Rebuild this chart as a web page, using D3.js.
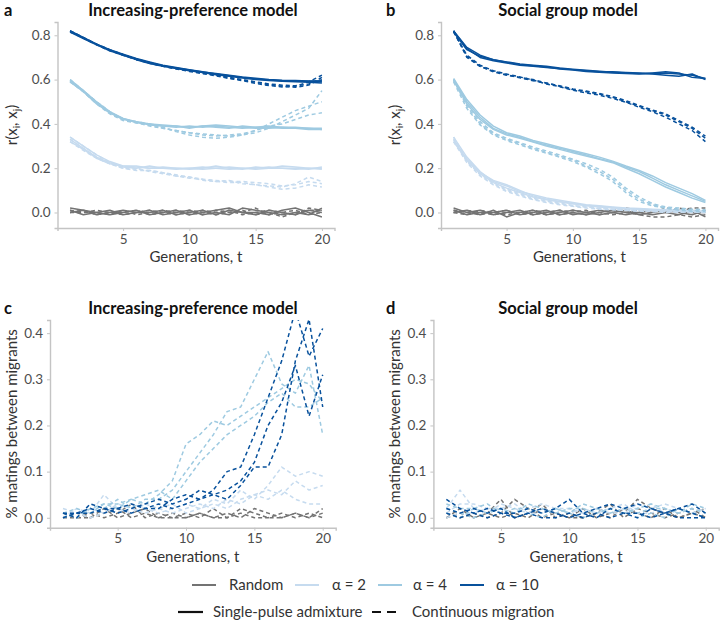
<!DOCTYPE html>
<html><head><meta charset="utf-8">
<script src="https://cdn.jsdelivr.net/npm/d3@7"></script>
<style>
html,body{margin:0;padding:0;background:#fff;}
svg{display:block;font-family:Lato,"Open Sans",sans-serif;}
</style></head>
<body><svg id="chart" width="720" height="622"></svg>
<script>
// ---------------- DATA ----------------
const generations = [1,2,3,4,5,6,7,8,9,10,11,12,13,14,15,16,17,18,19,20];
const groupNames = ["Random","α = 2","α = 4","α = 10"];
const migrationTypes = ["Single-pulse admixture","Continuous migration"];
const panelTitles = ["Increasing-preference model","Social group model","Increasing-preference model","Social group model"];
const panelLetters = ["a","b","c","d"];
const xTicks = [5,10,15,20];
const rTicks = [0.0,0.2,0.4,0.6,0.8];
const matingTicks = [0.0,0.1,0.2,0.3,0.4];

// Panel a: increasing-preference model, r(x_i, x_j)
const aRandomSolid = [
 [0.02,0.01,0.00,-0.01,0.00,0.01,-0.01,0.00,0.01,-0.01,0.00,0.01,0.02,0.00,-0.01,0.01,0.00,-0.01,0.01,0.00],
 [0.00,0.01,-0.01,0.00,0.01,0.00,0.01,-0.01,0.00,0.01,-0.01,0.00,-0.01,0.02,0.01,0.00,-0.01,0.00,-0.01,0.02],
 [0.01,-0.01,0.00,0.01,-0.01,0.00,0.00,0.01,-0.01,0.00,0.01,-0.01,0.01,0.00,0.00,-0.01,0.01,0.02,0.00,-0.02]];
const aRandomDashed = [
 [0.00,0.00,0.01,0.00,-0.01,0.00,0.01,0.00,-0.01,0.01,0.00,-0.01,0.00,0.01,-0.01,0.00,-0.02,0.00,0.01,0.01],
 [0.01,0.00,0.00,-0.01,0.01,-0.01,0.00,0.01,0.00,-0.01,0.01,0.00,0.01,-0.01,0.00,0.01,0.00,0.01,-0.01,0.00],
 [0.00,0.01,-0.01,0.00,0.00,0.01,-0.01,0.00,0.01,0.00,-0.01,0.01,0.00,0.00,0.02,-0.01,0.00,-0.01,0.02,0.01]];
const aA2Solid = [
 [0.34,0.30,0.26,0.23,0.21,0.205,0.20,0.20,0.195,0.20,0.205,0.20,0.195,0.20,0.20,0.205,0.20,0.195,0.20,0.20],
 [0.33,0.29,0.25,0.225,0.205,0.20,0.21,0.20,0.20,0.195,0.20,0.21,0.20,0.195,0.205,0.20,0.20,0.20,0.195,0.205],
 [0.32,0.285,0.245,0.22,0.21,0.21,0.20,0.205,0.20,0.20,0.195,0.20,0.205,0.20,0.195,0.20,0.21,0.205,0.20,0.195]];
const aA2Dashed = [
 [0.33,0.29,0.25,0.22,0.20,0.195,0.19,0.18,0.17,0.16,0.15,0.145,0.14,0.14,0.135,0.13,0.12,0.125,0.14,0.13],
 [0.34,0.30,0.26,0.225,0.205,0.20,0.185,0.175,0.165,0.155,0.15,0.14,0.145,0.13,0.125,0.12,0.115,0.13,0.16,0.14],
 [0.32,0.28,0.245,0.22,0.20,0.19,0.19,0.18,0.165,0.16,0.145,0.14,0.135,0.135,0.125,0.115,0.105,0.11,0.125,0.115]];
const aA4Solid = [
 [0.60,0.55,0.50,0.455,0.425,0.41,0.40,0.39,0.385,0.39,0.385,0.39,0.385,0.38,0.385,0.385,0.38,0.38,0.38,0.375],
 [0.59,0.545,0.49,0.45,0.42,0.41,0.395,0.39,0.39,0.385,0.39,0.395,0.39,0.385,0.38,0.38,0.385,0.385,0.38,0.38],
 [0.595,0.55,0.495,0.45,0.425,0.405,0.40,0.395,0.39,0.38,0.39,0.385,0.38,0.39,0.385,0.39,0.385,0.38,0.375,0.375]];
const aA4Dashed = [
 [0.60,0.55,0.50,0.455,0.42,0.41,0.40,0.38,0.37,0.36,0.35,0.345,0.35,0.355,0.37,0.40,0.43,0.46,0.48,0.50],
 [0.595,0.545,0.495,0.45,0.42,0.405,0.395,0.385,0.365,0.35,0.34,0.335,0.34,0.35,0.36,0.38,0.41,0.44,0.47,0.55],
 [0.59,0.545,0.49,0.445,0.415,0.405,0.39,0.38,0.37,0.36,0.355,0.35,0.345,0.35,0.37,0.39,0.40,0.42,0.44,0.45]];
const aA10Solid = [
 [0.82,0.79,0.76,0.735,0.715,0.695,0.68,0.665,0.655,0.645,0.635,0.625,0.617,0.61,0.603,0.598,0.595,0.593,0.592,0.59],
 [0.815,0.785,0.757,0.73,0.71,0.69,0.673,0.66,0.65,0.64,0.632,0.622,0.615,0.607,0.60,0.596,0.592,0.59,0.588,0.585],
 [0.82,0.788,0.76,0.733,0.712,0.692,0.676,0.662,0.652,0.643,0.634,0.627,0.62,0.612,0.606,0.60,0.597,0.596,0.594,0.595]];
const aA10Dashed = [
 [0.82,0.79,0.76,0.735,0.713,0.693,0.677,0.663,0.652,0.641,0.63,0.62,0.61,0.60,0.59,0.58,0.575,0.572,0.58,0.60],
 [0.815,0.787,0.757,0.73,0.71,0.69,0.674,0.66,0.648,0.637,0.627,0.617,0.605,0.595,0.583,0.573,0.567,0.57,0.59,0.62],
 [0.82,0.788,0.758,0.733,0.711,0.692,0.675,0.661,0.65,0.64,0.63,0.62,0.608,0.598,0.588,0.577,0.57,0.565,0.575,0.61]];

// Panel b: social group model, r(x_i, x_j)
const bRandomSolid = [
 [0.02,0.00,0.01,-0.01,0.00,0.01,-0.01,0.00,0.01,-0.01,0.00,0.01,0.00,-0.01,0.00,0.01,0.00,-0.01,0.01,-0.02],
 [0.00,0.01,-0.01,0.01,-0.02,0.00,0.01,-0.01,0.00,0.01,0.00,-0.01,0.00,0.01,-0.01,0.00,0.01,0.00,-0.01,0.01],
 [0.01,-0.01,0.00,0.00,0.01,-0.01,0.00,0.01,-0.01,0.00,-0.01,0.00,0.01,0.00,0.00,-0.01,0.00,0.01,0.00,0.00]];
const bRandomDashed = [
 [0.00,0.01,0.00,-0.01,0.00,0.00,-0.01,0.00,0.01,0.00,-0.01,0.01,0.01,0.02,0.01,0.00,0.02,0.01,0.02,0.02],
 [0.01,0.00,-0.01,0.00,0.01,-0.01,0.00,-0.01,0.00,0.01,0.00,0.00,-0.01,0.00,-0.01,-0.02,-0.02,-0.01,-0.02,-0.01],
 [0.00,-0.01,0.01,0.00,-0.01,0.00,0.01,0.00,-0.01,0.00,0.01,-0.01,0.00,0.01,0.00,0.01,0.00,0.02,0.01,0.00]];
const bA2Solid = [
 [0.34,0.25,0.185,0.14,0.12,0.095,0.08,0.065,0.055,0.045,0.035,0.03,0.025,0.02,0.018,0.015,0.012,0.01,0.008,0.005],
 [0.33,0.24,0.18,0.145,0.125,0.10,0.075,0.06,0.05,0.04,0.033,0.028,0.022,0.018,0.015,0.012,0.01,0.008,0.006,0.004],
 [0.32,0.235,0.175,0.135,0.11,0.09,0.07,0.058,0.048,0.04,0.03,0.025,0.02,0.017,0.013,0.01,0.008,0.006,0.005,0.003]];
const bA2Dashed = [
 [0.33,0.23,0.17,0.13,0.10,0.08,0.06,0.05,0.04,0.03,0.025,0.02,0.015,0.01,0.01,0.005,0.005,0.0,0.005,0.0],
 [0.32,0.225,0.165,0.125,0.095,0.075,0.058,0.045,0.035,0.028,0.02,0.015,0.012,0.01,0.005,0.008,0.003,0.005,0.0,0.005],
 [0.34,0.24,0.175,0.135,0.105,0.085,0.065,0.052,0.042,0.032,0.025,0.018,0.014,0.01,0.008,0.005,0.0,0.003,0.002,0.0]];
const bA4Solid = [
 [0.60,0.50,0.43,0.38,0.355,0.34,0.32,0.305,0.29,0.275,0.26,0.243,0.228,0.205,0.185,0.155,0.125,0.10,0.075,0.05],
 [0.595,0.49,0.42,0.375,0.35,0.335,0.318,0.30,0.285,0.27,0.255,0.24,0.225,0.20,0.175,0.145,0.115,0.09,0.065,0.045],
 [0.605,0.51,0.44,0.39,0.36,0.345,0.325,0.31,0.295,0.28,0.265,0.25,0.232,0.21,0.19,0.165,0.135,0.11,0.085,0.055]];
const bA4Dashed = [
 [0.60,0.48,0.40,0.355,0.33,0.31,0.29,0.272,0.255,0.237,0.21,0.185,0.15,0.10,0.06,0.035,0.02,0.015,0.01,0.01],
 [0.59,0.47,0.395,0.35,0.325,0.305,0.285,0.268,0.25,0.23,0.205,0.175,0.14,0.09,0.05,0.03,0.02,0.01,0.005,0.005],
 [0.60,0.49,0.41,0.36,0.335,0.315,0.295,0.278,0.26,0.24,0.22,0.195,0.16,0.11,0.07,0.04,0.025,0.02,0.015,0.012]];
const bA10Solid = [
 [0.82,0.74,0.70,0.685,0.675,0.665,0.66,0.655,0.65,0.645,0.64,0.635,0.635,0.632,0.63,0.628,0.63,0.625,0.62,0.605],
 [0.815,0.735,0.705,0.69,0.68,0.67,0.665,0.66,0.652,0.647,0.642,0.638,0.633,0.63,0.627,0.625,0.62,0.615,0.625,0.60],
 [0.82,0.745,0.71,0.69,0.678,0.668,0.662,0.657,0.648,0.643,0.637,0.633,0.63,0.628,0.625,0.63,0.635,0.63,0.61,0.605]];
const bA10Dashed = [
 [0.82,0.70,0.66,0.635,0.62,0.61,0.60,0.585,0.57,0.555,0.545,0.535,0.52,0.50,0.48,0.46,0.44,0.41,0.38,0.335],
 [0.815,0.71,0.665,0.64,0.625,0.612,0.598,0.58,0.568,0.552,0.54,0.53,0.515,0.498,0.475,0.455,0.43,0.40,0.37,0.32],
 [0.82,0.705,0.66,0.638,0.622,0.608,0.595,0.583,0.572,0.558,0.548,0.537,0.523,0.505,0.483,0.463,0.445,0.415,0.385,0.345]];

// Panel c: increasing-preference model, % matings between migrants (continuous migration)
const cRandom = [
 [0.00,0.01,0.00,0.01,0.02,0.00,0.01,0.00,0.00,0.00,0.01,0.00,0.01,0.00,0.02,0.01,0.00,0.01,0.00,0.01],
 [0.01,0.00,0.01,0.00,0.01,0.03,0.00,0.01,0.00,0.01,0.00,0.02,0.00,0.01,0.00,0.00,0.01,0.00,0.01,0.00],
 [0.00,0.00,0.00,0.02,0.00,0.01,0.02,0.00,0.01,0.00,0.01,0.00,0.00,0.02,0.01,0.00,0.00,0.01,0.00,0.02]];
const cA2 = [
 [0.01,0.00,0.02,0.01,0.03,0.02,0.01,0.02,0.01,0.02,0.03,0.02,0.04,0.03,0.05,0.06,0.05,0.08,0.06,0.07],
 [0.00,0.02,0.01,0.05,0.02,0.01,0.03,0.02,0.03,0.01,0.02,0.04,0.03,0.06,0.04,0.07,0.11,0.09,0.10,0.09],
 [0.02,0.01,0.00,0.01,0.02,0.03,0.02,0.01,0.02,0.03,0.02,0.03,0.02,0.04,0.05,0.04,0.06,0.04,0.03,0.03]];
const cA4 = [
 [0.01,0.00,0.02,0.03,0.02,0.04,0.03,0.05,0.08,0.16,0.18,0.21,0.20,0.22,0.24,0.26,0.28,0.30,0.29,0.25],
 [0.00,0.01,0.01,0.02,0.04,0.02,0.04,0.04,0.06,0.10,0.14,0.18,0.23,0.24,0.30,0.36,0.29,0.27,0.33,0.18],
 [0.01,0.02,0.01,0.03,0.03,0.04,0.05,0.06,0.04,0.08,0.12,0.15,0.18,0.20,0.22,0.25,0.27,0.24,0.24,0.26]];
const cA10 = [
 [0.01,0.01,0.02,0.01,0.02,0.01,0.02,0.03,0.02,0.03,0.04,0.06,0.10,0.11,0.18,0.26,0.34,0.45,0.35,0.41],
 [0.00,0.01,0.01,0.02,0.02,0.03,0.02,0.02,0.04,0.05,0.04,0.05,0.06,0.08,0.12,0.20,0.25,0.33,0.22,0.31],
 [0.01,0.00,0.03,0.02,0.01,0.02,0.03,0.04,0.03,0.04,0.06,0.05,0.04,0.07,0.11,0.11,0.18,0.34,0.43,0.24]];

// Panel d: social group model, % matings between migrants (continuous migration)
const dRandom = [
 [0.00,0.01,0.00,0.01,0.04,0.00,0.01,0.03,0.00,0.01,0.00,0.01,0.03,0.00,0.02,0.01,0.00,0.01,0.02,0.00],
 [0.01,0.00,0.01,0.00,0.01,0.04,0.02,0.00,0.01,0.00,0.02,0.00,0.01,0.01,0.04,0.02,0.01,0.00,0.01,0.02],
 [0.00,0.02,0.00,0.01,0.00,0.01,0.00,0.02,0.01,0.00,0.00,0.01,0.00,0.02,0.01,0.00,0.02,0.00,0.01,0.00]];
const dA2 = [
 [0.02,0.06,0.02,0.01,0.03,0.02,0.01,0.02,0.01,0.02,0.01,0.02,0.01,0.02,0.02,0.03,0.01,0.02,0.01,0.02],
 [0.01,0.03,0.03,0.02,0.01,0.01,0.02,0.03,0.02,0.01,0.02,0.01,0.02,0.03,0.01,0.01,0.02,0.01,0.02,0.01],
 [0.00,0.01,0.01,0.02,0.02,0.03,0.01,0.01,0.02,0.02,0.01,0.02,0.01,0.01,0.03,0.02,0.03,0.02,0.01,0.02]];
const dA4 = [
 [0.03,0.02,0.02,0.03,0.01,0.02,0.02,0.01,0.02,0.01,0.03,0.02,0.01,0.02,0.01,0.02,0.02,0.01,0.02,0.01],
 [0.01,0.00,0.02,0.01,0.02,0.01,0.03,0.02,0.01,0.02,0.02,0.01,0.02,0.01,0.02,0.03,0.02,0.01,0.03,0.02],
 [0.02,0.01,0.00,0.01,0.02,0.00,0.01,0.00,0.02,0.01,0.00,0.01,0.02,0.01,0.00,0.01,0.00,0.02,0.01,0.00]];
const dA10 = [
 [0.04,0.02,0.01,0.02,0.01,0.01,0.02,0.01,0.02,0.04,0.01,0.02,0.03,0.02,0.03,0.02,0.01,0.02,0.03,0.01],
 [0.01,0.00,0.01,0.00,0.01,0.00,0.01,0.00,0.00,0.01,0.00,0.01,0.00,0.01,0.01,0.00,0.01,0.00,0.00,0.00],
 [0.02,0.01,0.02,0.01,0.02,0.00,0.01,0.02,0.01,0.00,0.01,0.00,0.02,0.01,0.00,0.02,0.01,0.02,0.01,0.00]];

// ---------------- STYLE / LAYOUT ----------------
const groupColor = d3.scaleOrdinal().domain(groupNames).range(["#737373","#c6dbef","#9ecae1","#08519c"]);
const svg = d3.select("#chart");

const panels = [
 {i:0, xr:[57.5,334.5], yr:[228,22], yd:[-0.07,0.86], ticks:rTicks, ylab:"r",
  series:[[aRandomSolid,0,false],[aRandomDashed,0,true],[aA2Solid,1,false],[aA2Dashed,1,true],
          [aA4Solid,2,false],[aA4Dashed,2,true],[aA10Solid,3,false],[aA10Dashed,3,true]], titleY:16, xlabY:262},
 {i:1, xr:[441,718], yr:[228,22], yd:[-0.07,0.86], ticks:rTicks, ylab:"r",
  series:[[bRandomSolid,0,false],[bRandomDashed,0,true],[bA2Solid,1,false],[bA2Dashed,1,true],
          [bA4Solid,2,false],[bA4Dashed,2,true],[bA10Solid,3,false],[bA10Dashed,3,true]], titleY:16, xlabY:262},
 {i:2, xr:[50,335.7], yr:[527.7,320], yd:[-0.0215,0.4285], ticks:matingTicks, ylab:"m",
  series:[[cRandom,0,true],[cA2,1,true],[cA4,2,true],[cA10,3,true]], titleY:314, xlabY:562},
 {i:3, xr:[433.4,718.7], yr:[527.7,320], yd:[-0.0215,0.4285], ticks:matingTicks, ylab:"m",
  series:[[dRandom,0,true],[dA2,1,true],[dA4,2,true],[dA10,3,true]], titleY:314, xlabY:562}
];

const axisColor = "#c4c4c4", tickText = "#4d4d4d", titleText = "#333";

panels.forEach(p => {
  const x = d3.scaleLinear().domain([0.05,20.95]).range(p.xr);
  const y = d3.scaleLinear().domain(p.yd).range(p.yr);
  const g = svg.append("g");
  const cid = "clip"+p.i;
  svg.append("clipPath").attr("id",cid).append("rect")
    .attr("x",p.xr[0]).attr("y",p.yr[1]).attr("width",p.xr[1]-p.xr[0]).attr("height",p.yr[0]-p.yr[1]);

  const xa = g.append("g").attr("transform",`translate(0,${p.yr[0]})`)
    .call(d3.axisBottom(x).tickValues(xTicks).tickSize(3).tickPadding(3).tickFormat(d3.format("d")));
  const ya = g.append("g").attr("transform",`translate(${p.xr[0]},0)`)
    .call(d3.axisLeft(y).tickValues(p.ticks).tickSize(3).tickPadding(4).tickFormat(d3.format(".1f")));
  [xa,ya].forEach(a=>{
    a.select(".domain").attr("stroke",axisColor).attr("stroke-width",1.4);
    a.selectAll(".tick line").attr("stroke",axisColor).attr("stroke-width",1);
    a.selectAll(".tick text").attr("fill",tickText).attr("font-size",13.5).attr("font-family","Lato, sans-serif");
  });

  const line = d3.line().x((d,k)=>x(generations[k])).y(d=>y(d));
  const lg = g.append("g").attr("clip-path",`url(#${cid})`);
  p.series.forEach(([reps,gi,dashed]) => {
    lg.selectAll(null).data(reps).join("path")
      .attr("d",line).attr("fill","none")
      .attr("stroke",groupColor(groupNames[gi]))
      .attr("stroke-width",1.5)
      .attr("stroke-linejoin","round")
      .attr("stroke-dasharray",dashed?"4,3":null);
  });

  const cx = (p.xr[0]+p.xr[1])/2;
  svg.append("text").attr("x",p.i%2===0?193:568).attr("y",p.titleY).attr("text-anchor","middle")
    .attr("font-weight","bold").attr("font-size",16.5).attr("fill","#111").text(panelTitles[p.i]);
  svg.append("text").attr("x",p.i%2===0?4:386).attr("y",p.titleY).attr("font-weight","bold")
    .attr("font-size",16.5).attr("fill","#111").text(panelLetters[p.i]);
  svg.append("text").attr("x",cx).attr("y",p.xlabY).attr("text-anchor","middle")
    .attr("font-size",15).attr("fill",titleText).text("Generations, t");

  const ylx = p.i%2===0 ? 17 : 400;
  const ycy = (p.yr[0]+p.yr[1])/2;
  const yt = svg.append("text").attr("transform",`translate(${ylx},${ycy}) rotate(-90)`)
    .attr("text-anchor","middle").attr("font-size",15).attr("fill",titleText);
  if (p.ylab==="r") {
    yt.append("tspan").text("r(x");
    yt.append("tspan").attr("font-size",10).attr("dy",3).text("i");
    yt.append("tspan").attr("dy",-3).text(", x");
    yt.append("tspan").attr("font-size",10).attr("dy",3).text("j");
    yt.append("tspan").attr("dy",-3).text(")");
  } else {
    yt.text("% matings between migrants");
  }
});

// ---------------- LEGEND ----------------
const leg = svg.append("g").attr("font-size",15).attr("fill",titleText);
const row1 = [[192,229],[295,332],[378,413],[460,496]];
groupNames.forEach((n,k)=>{
  leg.append("line").attr("x1",row1[k][0]).attr("x2",row1[k][0]+24).attr("y1",585).attr("y2",585)
    .attr("stroke",groupColor(n)).attr("stroke-width",2);
  leg.append("text").attr("x",row1[k][1]).attr("y",590).attr("fill",titleText).text(n);
});
const row2 = [[178,213,false],[372,412,true]];
migrationTypes.forEach((n,k)=>{
  leg.append("line").attr("x1",row2[k][0]).attr("x2",row2[k][0]+(k?30:25)).attr("y1",612).attr("y2",612)
    .attr("stroke","#111").attr("stroke-width",2.2).attr("stroke-dasharray",row2[k][2]?"9,6":null);
  leg.append("text").attr("x",row2[k][1]).attr("y",617).attr("fill",titleText).text(n);
});
</script></body></html>
